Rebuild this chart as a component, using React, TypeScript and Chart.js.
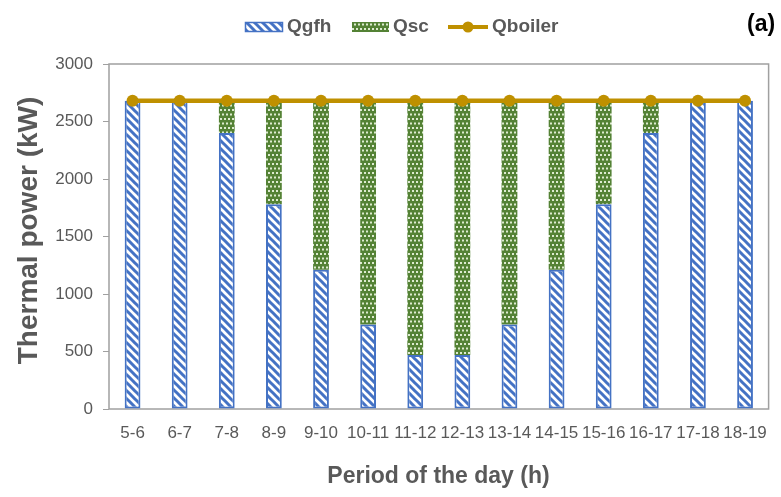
import React, { useEffect, useRef } from "react";
import { Chart, registerables } from "chart.js";

Chart.register(...registerables);

const periods = ["5-6", "6-7", "7-8", "8-9", "9-10", "10-11", "11-12", "12-13", "13-14", "14-15", "15-16", "16-17", "17-18", "18-19"];
const qgfh = [2680, 2680, 2400, 1780, 1210, 735, 470, 470, 735, 1210, 1780, 2400, 2680, 2680];
const qsc = [0, 0, 280, 900, 1470, 1945, 2210, 2210, 1945, 1470, 900, 280, 0, 0];
const qboiler = [2680, 2680, 2680, 2680, 2680, 2680, 2680, 2680, 2680, 2680, 2680, 2680, 2680, 2680];
const yTicks = [0, 500, 1000, 1500, 2000, 2500, 3000];

const BLUE = "#4472C4";
const GREEN = "#548235";
const GOLD = "#BF9000";
const GRAY = "#595959";
const FONT = "'Liberation Sans', Arial, sans-serif";

function stripePattern(ctx: CanvasRenderingContext2D): CanvasPattern | string {
  const s = 8;
  const c = document.createElement("canvas");
  c.width = s;
  c.height = s;
  const g = c.getContext("2d")!;
  g.fillStyle = "#ffffff";
  g.fillRect(0, 0, s, s);
  g.strokeStyle = BLUE;
  g.lineWidth = 3;
  g.beginPath();
  g.moveTo(-2, -2);
  g.lineTo(s + 2, s + 2);
  g.moveTo(-2 - s, -2);
  g.lineTo(2, s + 2);
  g.moveTo(s - 2, -2);
  g.lineTo(2 * s + 2, s + 2);
  g.stroke();
  return ctx.createPattern(c, "repeat") || BLUE;
}

function dotPattern(ctx: CanvasRenderingContext2D): CanvasPattern | string {
  const c = document.createElement("canvas");
  c.width = 4;
  c.height = 9;
  const g = c.getContext("2d")!;
  g.fillStyle = GREEN;
  g.fillRect(0, 0, 4, 9);
  g.fillStyle = "#DDEBD0";
  g.fillRect(0, 1, 2, 2);
  g.fillRect(2, 5.5, 2, 2);
  return ctx.createPattern(c, "repeat") || GREEN;
}

export default function App() {
  const ref = useRef<HTMLCanvasElement>(null);

  useEffect(() => {
    document.body.style.margin = "0";
    const canvas = ref.current!;
    const ctx = canvas.getContext("2d")!;
    const stripes = stripePattern(ctx);
    const dots = dotPattern(ctx);

    const decor = {
      id: "decor",
      beforeDatasetsDraw(chart: any) {
        const { ctx: c, chartArea: a } = chart;
        c.save();
        c.strokeStyle = "#A0A0A0";
        c.lineWidth = 1.5;
        c.strokeRect(a.left, a.top, a.right - a.left, a.bottom - a.top);
        c.restore();
      },
      afterDraw(chart: any) {
        const c: CanvasRenderingContext2D = chart.ctx;
        c.save();
        c.font = `bold 19px ${FONT}`;
        c.textBaseline = "alphabetic";
        c.textAlign = "left";
        // Qgfh
        c.fillStyle = stripes as any;
        c.fillRect(245, 22, 38, 10);
        c.strokeStyle = BLUE;
        c.lineWidth = 1.5;
        c.strokeRect(245.5, 22.5, 37, 9);
        c.fillStyle = GRAY;
        c.fillText("Qgfh", 287, 32);
        // Qsc
        c.fillStyle = dots as any;
        c.fillRect(352, 22, 37, 10);
        c.fillStyle = GRAY;
        c.fillText("Qsc", 393, 32);
        // Qboiler
        c.strokeStyle = GOLD;
        c.lineWidth = 4;
        c.beginPath();
        c.moveTo(448, 27);
        c.lineTo(488, 27);
        c.stroke();
        c.fillStyle = GOLD;
        c.beginPath();
        c.arc(468, 27, 5.5, 0, Math.PI * 2);
        c.fill();
        c.fillStyle = GRAY;
        c.fillText("Qboiler", 492, 32);
        // (a)
        c.font = `bold 23px ${FONT}`;
        c.fillStyle = "#000000";
        c.fillText("(a)", 747, 31);
        // x title
        c.font = `bold 23px ${FONT}`;
        c.fillStyle = GRAY;
        c.textAlign = "center";
        c.fillText("Period of the day (h)", 438.5, 483);
        // y title
        c.translate(37, 230.5);
        c.rotate(-Math.PI / 2);
        c.font = `bold 28px ${FONT}`;
        c.fillText("Thermal power (kW)", 0, 0);
        c.restore();
      },
    };

    const chart = new Chart(canvas, {
      type: "bar",
      data: {
        labels: periods,
        datasets: [
          {
            type: "line",
            label: "Qboiler",
            data: qboiler,
            borderColor: GOLD,
            backgroundColor: GOLD,
            borderWidth: 4.5,
            pointRadius: 6,
            pointBackgroundColor: GOLD,
            pointBorderColor: GOLD,
            pointBorderWidth: 0,
            stack: "line",
            order: 0,
          } as any,
          {
            type: "bar",
            label: "Qgfh",
            data: qgfh,
            backgroundColor: stripes as any,
            borderColor: BLUE,
            borderWidth: 2,
            borderSkipped: false,
            stack: "bars",
            order: 1,
          },
          {
            type: "bar",
            label: "Qsc",
            data: qsc,
            backgroundColor: dots as any,
            borderWidth: 0,
            stack: "bars",
            order: 2,
          },
        ],
      },
      options: {
        animation: false,
        responsive: false,
        maintainAspectRatio: false,
        layout: { padding: { top: 64, right: 3, left: 0, bottom: 0 } },
        datasets: {
          bar: { categoryPercentage: 1, barPercentage: 0.335 },
        },
        plugins: {
          legend: { display: false },
          tooltip: { enabled: false },
          title: { display: false },
        },
        scales: {
          x: {
            stacked: true,
            grid: { display: false, drawTicks: false },
            border: { display: false },
            ticks: {
              color: GRAY,
              font: { family: FONT, size: 17 },
              padding: 14,
              maxRotation: 0,
              autoSkip: false,
            },
            afterFit(scale: any) {
              scale.height = 88;
            },
          },
          y: {
            stacked: true,
            min: 0,
            max: 3000,
            afterBuildTicks(scale: any) {
              scale.ticks = yTicks.map((v) => ({ value: v }));
            },
            grid: {
              display: true,
              drawOnChartArea: false,
              drawTicks: true,
              tickLength: 6,
              color: "#A0A0A0",
              lineWidth: 1,
            },
            border: { display: false },
            ticks: {
              color: GRAY,
              font: { family: FONT, size: 17 },
              padding: 10,
              callback: (v: any) => String(v),
            },
            afterFit(scale: any) {
              scale.width = 109;
            },
          },
        },
      },
      plugins: [decor],
    });

    return () => chart.destroy();
  }, []);

  return (
    <div style={{ width: 781, height: 497 }}>
      <canvas ref={ref} width={781} height={497} style={{ display: "block" }} />
    </div>
  );
}
